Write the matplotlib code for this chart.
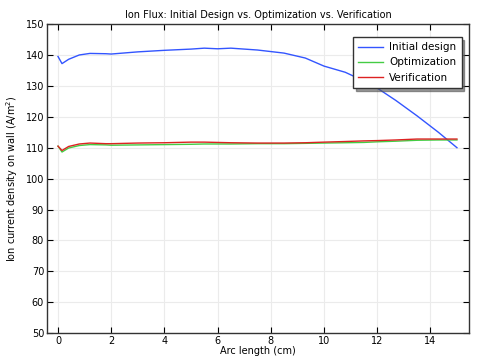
import numpy as np
import matplotlib.pyplot as plt

# arc length (cm)
arc = [0, 0.15, 0.4, 0.8, 1.2, 1.8, 2.0, 3.0, 4.0, 5.0, 5.5, 6.0, 6.5, 7.5, 8.5, 9.3,
       10.0, 10.8, 11.5, 12.0, 12.7, 13.5, 14.3, 15.0]
initial = [139.5, 137.2, 138.6, 140.0, 140.5, 140.4, 140.3, 141.0, 141.5, 141.9, 142.2, 142.0,
           142.2, 141.6, 140.6, 139.0, 136.4, 134.4, 131.6, 129.3, 125.3, 120.3, 115.0, 110.0]
optim = [110.5, 108.6, 109.9, 110.7, 111.0, 110.9, 110.8, 110.9, 111.0, 111.1, 111.2, 111.2,
         111.2, 111.3, 111.3, 111.4, 111.5, 111.6, 111.7, 111.9, 112.1, 112.4, 112.5, 112.5]
verif = [110.5, 109.1, 110.4, 111.2, 111.5, 111.3, 111.3, 111.5, 111.6, 111.8, 111.8, 111.7,
         111.6, 111.5, 111.5, 111.6, 111.8, 112.0, 112.2, 112.3, 112.5, 112.8, 112.8, 112.8]

plt.rcParams['font.size'] = 7

fig = plt.figure(figsize=(4.78, 3.59), dpi=100)
ax = fig.add_axes([0.098, 0.072, 0.883, 0.861])

ax.plot(arc, initial, color='#3355ff', lw=1.0, label='Initial design')
ax.plot(arc, optim, color='#44cc44', lw=1.0, label='Optimization')
ax.plot(arc, verif, color='#dd2222', lw=1.0, label='Verification')

ax.set_xlim(-0.42, 15.45)
ax.set_ylim(50, 150)
ax.set_xticks(np.arange(0, 15, 2))
ax.set_yticks(np.arange(50, 151, 10))
ax.grid(True, color='#ebebeb', lw=0.8)
ax.tick_params(direction='in', top=True, right=True, length=4, width=0.8, pad=2)
for s in ax.spines.values():
    s.set_linewidth(1.0)
    s.set_color('#333333')

ax.set_title('Ion Flux: Initial Design vs. Optimization vs. Verification', fontsize=7, pad=4)
ax.set_xlabel('Arc length (cm)', labelpad=0)
ax.set_ylabel('Ion current density on wall (A/m$^2$)', labelpad=4)

leg = ax.legend(loc='upper right', fancybox=False, shadow={'color': '#555555', 'alpha': 0.6},
                framealpha=1, edgecolor='#333333', borderpad=0.5, handlelength=2.4,
                handletextpad=0.6, labelspacing=0.5, fontsize=7.5,
                bbox_to_anchor=(0.995, 0.975))
leg.get_frame().set_linewidth(1.0)

fig.savefig('out.png', dpi=100)
